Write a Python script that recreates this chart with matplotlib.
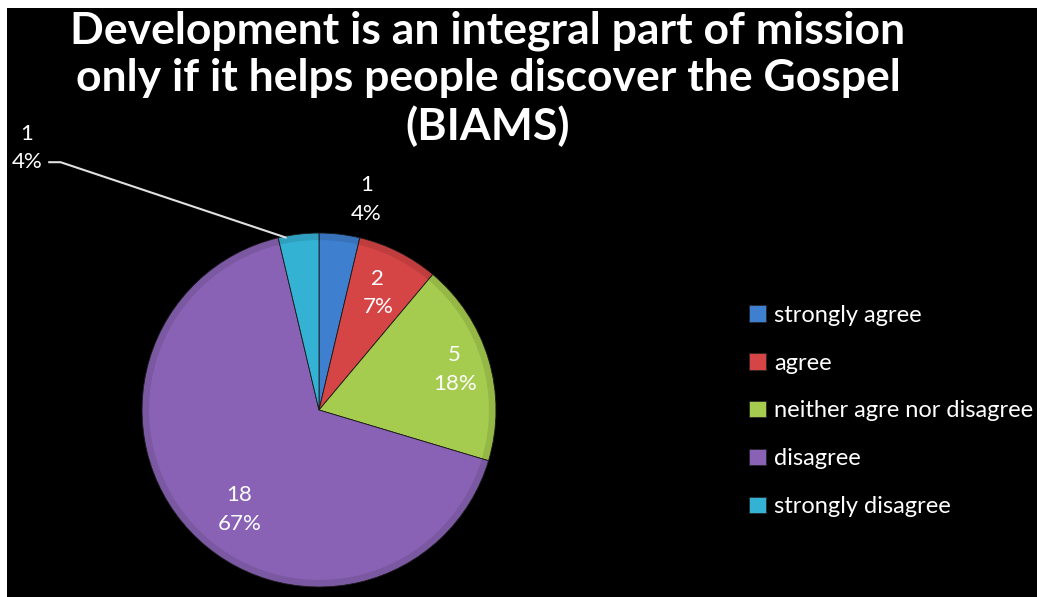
import numpy as np
import matplotlib
matplotlib.use("Agg")
import matplotlib.pyplot as plt
from matplotlib.patches import Patch

plt.rcParams['font.family'] = ['Lato', 'DejaVu Sans']

# data
Categories = ['strongly agree', 'agree', 'neither agre nor disagree', 'disagree', 'strongly disagree']
Counts = [1, 2, 5, 18, 1]
Percents = ['4%', '7%', '18%', '67%', '4%']
Colors = ['#3f7fd0', '#d64545', '#a6cc4f', '#8a62b5', '#34b2d4']
Title = 'Development is an integral part of mission\nonly if it helps people discover the Gospel\n(BIAMS)'

W, H = 1041, 597
fig = plt.figure(figsize=(W / 100, H / 100), dpi=100)
fig.patch.set_facecolor('white')

# black panel
bg = fig.add_axes([7 / W, 0, 1030 / W, 589 / H])
bg.set_facecolor('black')
bg.set_xticks([])
bg.set_yticks([])
for s in bg.spines.values():
    s.set_visible(False)

fig.text(488 / W, 1 - 79 / H, Title, ha='center', va='center', color='white',
         fontsize=32, fontweight='bold', linespacing=1.22)

# pie
cx, cy, r = 319, 410, 177
ax = fig.add_axes([(cx - r) / W, (H - cy - r) / H, 2 * r / W, 2 * r / H])
ax.set_facecolor('none')
wedges, _ = ax.pie(Counts, colors=Colors, startangle=90, counterclock=False,
                   radius=1, wedgeprops=dict(edgecolor='#1a1a1a', linewidth=0.6))
# soft bevel near the rim
ax.pie(Counts, colors=['black'] * len(Counts), startangle=90, counterclock=False,
       radius=1, wedgeprops=dict(width=0.04, alpha=0.1, linewidth=0))
ax.set_xlim(-1, 1)
ax.set_ylim(-1, 1)
ax.set_aspect('equal')
ax.axis('off')

# label distances (radial) and angle tweaks per slice
LabelDist = [1.22, 0.74, 0.80, 0.72, None]
LabelTweak = [-6, 0, 0, 8, 0]
Total = sum(Counts)
cum = 0
for i, c in enumerate(Counts):
    mid = 90 - 360 * (cum + c / 2) / Total
    cum += c
    txt = '%d\n%s' % (c, Percents[i])
    if LabelDist[i] is None:
        a = np.radians(mid + 4)
        px, py = np.cos(a), np.sin(a)
        ax.text(-1.65, 1.48, txt, ha='center', va='center', color='white',
                fontsize=16, linespacing=1.55, clip_on=False)
        ax.plot([-1.53, -1.46, px * 0.99], [1.40, 1.40, py * 0.99], color='#e0e0e0',
                lw=1.5, clip_on=False, solid_capstyle='butt')
    else:
        a = np.radians(mid + LabelTweak[i])
        ax.text(np.cos(a) * LabelDist[i], np.sin(a) * LabelDist[i], txt,
                ha='center', va='center', color='white', fontsize=16,
                linespacing=1.55, clip_on=False)

handles = [Patch(facecolor=col, edgecolor='#222222', linewidth=0.5) for col in Colors]
leg = fig.legend(handles, Categories, loc='center left',
                 bbox_to_anchor=(728 / W, 1 - 411 / H), frameon=False,
                 labelcolor='white', fontsize=17, handlelength=0.7,
                 handleheight=0.7, handletextpad=0.35, labelspacing=1.14)

fig.savefig('out.png', dpi=100, facecolor=fig.get_facecolor())
